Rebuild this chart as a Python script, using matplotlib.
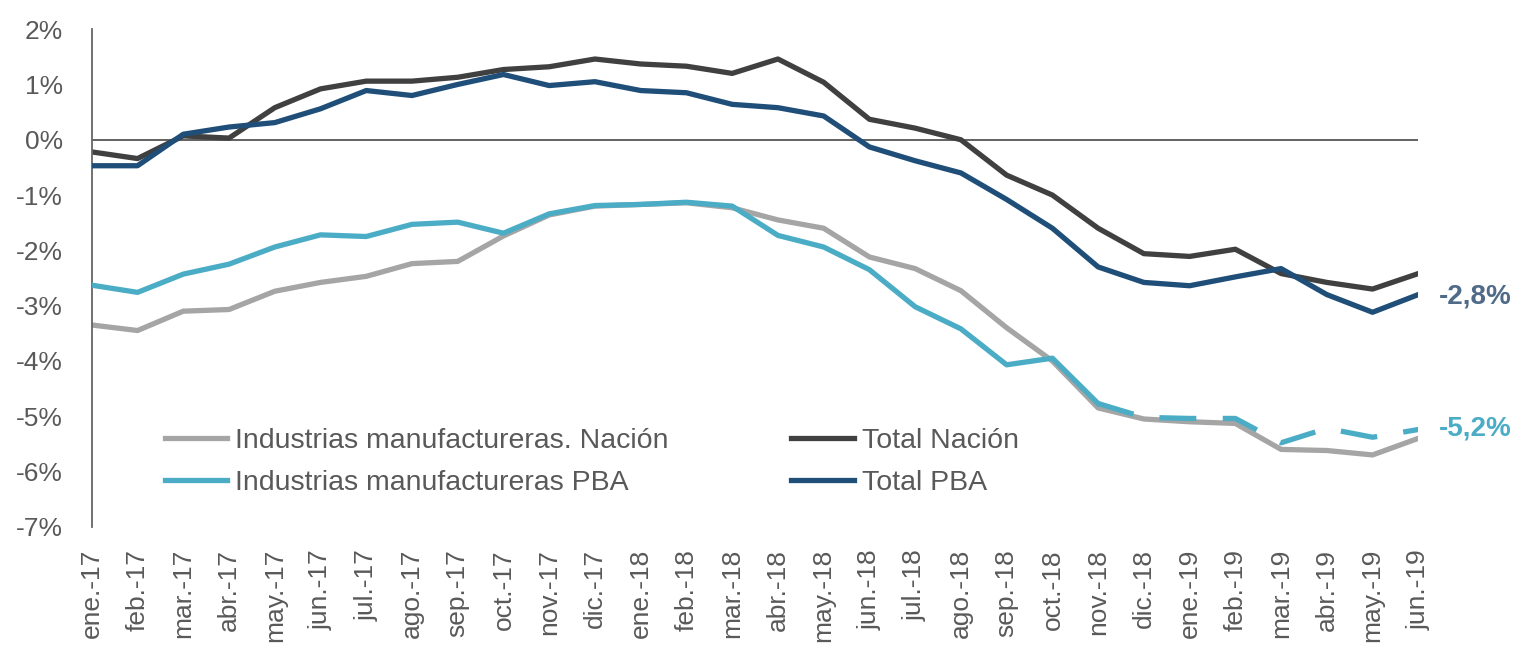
import numpy as np
import matplotlib.pyplot as plt

plt.rcParams['font.family'] = ['Liberation Sans', 'DejaVu Sans']

meses = ['ene.-17', 'feb.-17', 'mar.-17', 'abr.-17', 'may.-17', 'jun.-17',
         'jul.-17', 'ago.-17', 'sep.-17', 'oct.-17', 'nov.-17', 'dic.-17',
         'ene.-18', 'feb.-18', 'mar.-18', 'abr.-18', 'may.-18', 'jun.-18',
         'jul.-18', 'ago.-18', 'sep.-18', 'oct.-18', 'nov.-18', 'dic.-18',
         'ene.-19', 'feb.-19', 'mar.-19', 'abr.-19', 'may.-19', 'jun.-19']

# variacion interanual (%)
ind_nacion = [-3.35, -3.45, -3.1, -3.07, -2.74, -2.58, -2.47, -2.24, -2.2, -1.74,
              -1.36, -1.2, -1.17, -1.14, -1.23, -1.45, -1.6, -2.12, -2.33, -2.73,
              -3.4, -4.0, -4.85, -5.05, -5.1, -5.13, -5.6, -5.62, -5.7, -5.4]
total_nacion = [-0.22, -0.34, 0.07, 0.03, 0.58, 0.92, 1.06, 1.06, 1.13, 1.27,
                1.32, 1.46, 1.37, 1.33, 1.2, 1.46, 1.04, 0.37, 0.21, 0.0,
                -0.64, -1.0, -1.6, -2.06, -2.11, -1.98, -2.42, -2.58, -2.7, -2.42]
ind_pba = [-2.63, -2.76, -2.43, -2.25, -1.94, -1.72, -1.75, -1.53, -1.49, -1.69,
           -1.34, -1.19, -1.17, -1.13, -1.2, -1.73, -1.94, -2.35, -3.02, -3.42,
           -4.07, -3.95, -4.77, -5.02, -5.04, -5.04, -5.48, -5.22, -5.38, -5.24]
total_pba = [-0.47, -0.47, 0.1, 0.23, 0.31, 0.56, 0.89, 0.8, 1.0, 1.18,
             0.98, 1.05, 0.89, 0.85, 0.64, 0.58, 0.43, -0.13, -0.38, -0.6,
             -1.08, -1.6, -2.3, -2.58, -2.64, -2.48, -2.33, -2.8, -3.12, -2.8]
corte = 22  # desde nov.-18 la serie PBA va punteada

x = np.arange(len(meses))
fig = plt.figure(figsize=(15.3, 6.48), dpi=100)
ax = fig.add_axes([0.060, 0.187, 0.867, 0.768])

c_gris = '#a5a5a5'
c_osc = '#404040'
c_teal = '#4bacc6'
c_azul = '#1f4e79'
lw = 3.8

ax.axhline(0, color='#555555', lw=1.3, zorder=1)
l1, = ax.plot(x, ind_nacion, color=c_gris, lw=lw, zorder=2)
l2, = ax.plot(x, total_nacion, color=c_osc, lw=lw, zorder=2)
l3, = ax.plot(x[:corte + 1], ind_pba[:corte + 1], color=c_teal, lw=lw, zorder=3)
ax.plot(x[corte:], ind_pba[corte:], color=c_teal, lw=lw, zorder=3,
        linestyle=(0, (7, 5)))
l4, = ax.plot(x, total_pba, color=c_azul, lw=lw, zorder=3)

ax.set_xlim(0, len(meses) - 1)
ax.set_ylim(-7, 2)
ax.set_yticks(range(-7, 3))
ax.set_yticklabels(['%d%%' % v for v in range(-7, 3)])
ax.set_xticks(x)
ax.set_xticklabels(meses, rotation=90)
ax.tick_params(axis='both', length=0, labelsize=19, colors='#595959')
ax.tick_params(axis='x', pad=16)
ax.tick_params(axis='y', pad=21)

for s in ['top', 'right', 'bottom']:
    ax.spines[s].set_visible(False)
ax.spines['left'].set_color('#666666')
ax.spines['left'].set_linewidth(1.3)

ax.text(x[-1] + 0.45, total_pba[-1] - 0.03, '-2,8%', color='#4f6b88', fontsize=20,
        fontweight='bold', va='center', ha='left', clip_on=False)
ax.text(x[-1] + 0.45, ind_pba[-1] + 0.02, '-5,2%', color=c_teal, fontsize=20,
        fontweight='bold', va='center', ha='left', clip_on=False)

leg = ax.legend([l1, l3, l2, l4],
                ['Industrias manufactureras. Nación', 'Industrias manufactureras PBA',
                 'Total Nación', 'Total PBA'],
                ncol=2, loc='upper left', bbox_to_anchor=(0.055, 0.198),
                frameon=False, fontsize=20.5, handlelength=2.2, handletextpad=0.28,
                columnspacing=4.3, labelspacing=0.55, borderpad=0, borderaxespad=0)
for t in leg.get_texts():
    t.set_color('#595959')

fig.savefig('out.png', dpi=100)
